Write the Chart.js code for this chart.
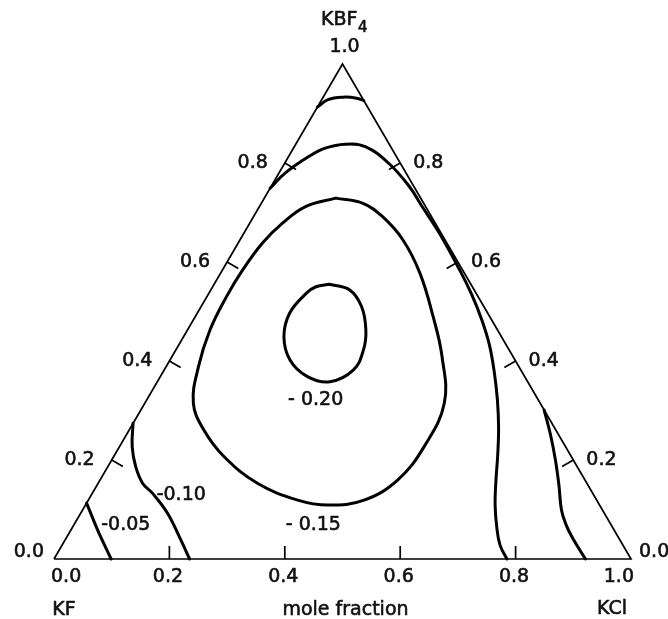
<!DOCTYPE html>
<html>
<head>
<meta charset="utf-8">
<script src="https://cdn.jsdelivr.net/npm/chart.js@4.4.1/dist/chart.umd.min.js"></script>
<style>
  html, body { margin: 0; padding: 0; background: #fff; }
  #wrap { position: relative; width: 668px; height: 619px; }
</style>
</head>
<body>
<div id="wrap"><canvas id="c"></canvas></div>
<script>
// ---- Data (mole fractions) ----
// Axis tick values and labels
const tickValues = [0.0, 0.2, 0.4, 0.6, 0.8, 1.0];
const tickLabels = ['0.0', '0.2', '0.4', '0.6', '0.8', '1.0'];
const components = ['KF', 'KCl', 'KBF4'];
const levelLabels = ['-0.05', '-0.10', '- 0.15', '- 0.20'];

// Contour lines as [x(KCl), x(KBF4)] compositions; x(KF) = 1 - x(KCl) - x(KBF4)
const iso005_kf   = [[0.000,0.113],[0.046,0.059],[0.099,0.000]];
const iso005_kbf4 = [[0.000,0.913],[0.011,0.928],[0.035,0.933],[0.059,0.931],[0.074,0.926]];
const iso005_kcl  = [[0.699,0.301],[0.735,0.251],[0.769,0.200],[0.800,0.150],[0.830,0.099],[0.853,0.069],
                     [0.877,0.043],[0.921,0.000]];
const iso010_kf   = [[0.000,0.274],[0.022,0.227],[0.048,0.187],[0.077,0.153],[0.104,0.133],[0.151,0.092],
                     [0.201,0.038],[0.235,0.000]];
const iso010_main = [[0.000,0.749],[0.011,0.780],[0.035,0.813],[0.055,0.830],[0.086,0.838],[0.123,0.833],
                     [0.181,0.799],[0.239,0.753],[0.282,0.712],[0.338,0.659],[0.411,0.584],[0.457,0.534],
                     [0.500,0.483],[0.538,0.433],[0.574,0.378],[0.608,0.321],[0.638,0.265],[0.664,0.210],
                     [0.686,0.160],[0.710,0.109],[0.736,0.063],[0.759,0.028],[0.785,0.000]];
const iso015      = [[0.124,0.729],[0.175,0.719],[0.223,0.692],[0.282,0.645],[0.345,0.578],[0.412,0.490],
                     [0.468,0.409],[0.519,0.315],[0.528,0.227],[0.516,0.160],[0.478,0.119],[0.420,0.109],
                     [0.363,0.119],[0.276,0.153],[0.191,0.207],[0.129,0.261],[0.084,0.315],[0.056,0.389],
                     [0.039,0.463],[0.034,0.530],[0.035,0.584],[0.042,0.638],[0.057,0.679],[0.080,0.712],
                     [0.124,0.729]];
const iso020      = [[0.200,0.555],[0.240,0.544],[0.278,0.510],[0.309,0.463],[0.325,0.423],[0.328,0.382],
                     [0.299,0.358],[0.254,0.369],[0.208,0.402],[0.174,0.449],[0.160,0.497],[0.169,0.537],
                     [0.179,0.550],[0.200,0.555]];
const corners = [[0,0],[1,0],[0,1],[0,0]];

// ---- helpers ----
const toXY = arr => arr.map(([kcl, kbf]) => ({ x: kcl + kbf / 2, y: kbf }));
const contour = arr => ({
  data: toXY(arr), showLine: true, borderColor: '#000', borderWidth: 3,
  pointRadius: 0, tension: 0.4, clip: false, borderCapStyle: 'round', borderJoinStyle: 'round'
});

const FONT = '"DejaVu Sans", sans-serif';

const ternaryDecor = {
  id: 'ternaryDecor',
  afterDatasetsDraw(chart, args, opts) {
    const { ctx } = chart;
    const sx = chart.scales.x, sy = chart.scales.y;
    const P = (kcl, kbf) => [sx.getPixelForValue(kcl + kbf / 2), sy.getPixelForValue(kbf)];
    const A = P(0, 0), B = P(1, 0), C = P(0, 1);
    const norm = (v) => { const l = Math.hypot(v[0], v[1]); return [v[0] / l, v[1] / l]; };
    const dl = norm([C[0] - A[0], C[1] - A[1]]);
    const dr = norm([C[0] - B[0], C[1] - B[1]]);
    const nl = [-dl[1], dl[0]];     // inward normal of left edge
    const nr = [dr[1], -dr[0]];     // inward normal of right edge
    const L = 13;
    ctx.save();
    ctx.strokeStyle = '#000';
    ctx.lineWidth = 1.7;
    ctx.beginPath();
    tickValues.forEach(v => {
      if (v <= 0 || v >= 1) return;
      const b = P(v, 0);
      ctx.moveTo(b[0], b[1]); ctx.lineTo(b[0], b[1] - L);
      const l = P(0, v);
      ctx.moveTo(l[0], l[1]); ctx.lineTo(l[0] + nl[0] * L, l[1] + nl[1] * L);
      const r = P(1 - v, v);
      ctx.moveTo(r[0], r[1]); ctx.lineTo(r[0] + nr[0] * L, r[1] + nr[1] * L);
    });
    ctx.stroke();

    ctx.fillStyle = '#111';
    ctx.strokeStyle = '#111';
    ctx.lineWidth = 0.6;
    ctx.lineJoin = 'round';
    ctx.textBaseline = 'middle';
    const txt = (s, x, y, align) => {
      ctx.textAlign = align;
      ctx.fillText(s, x, y);
      ctx.strokeText(s, x, y);
    };
    ctx.font = '19px ' + FONT;
    // bottom (KCl) labels
    tickValues.forEach((v, i) => {
      const b = P(v, 0);
      if (v === 0) txt(tickLabels[i], b[0] - 3, b[1] + 18, 'left');
      else if (v === 1) txt(tickLabels[i], b[0] + 3, b[1] + 18, 'right');
      else txt(tickLabels[i], b[0] - 1.5, b[1] + 18, 'center');
    });
    // side (KBF4) labels
    tickValues.forEach((v, i) => {
      if (v === 1) return;
      const l = P(0, v), r = P(1 - v, v);
      const dy = v === 0 ? -7 : 0;
      txt(tickLabels[i], l[0] - (v === 0 ? 10 : 17), l[1] + dy, 'right');
      txt(tickLabels[i], r[0] + (v === 0 ? 8 : 13), r[1] + dy, 'left');
    });
    // apex
    txt(tickLabels[tickLabels.length - 1], C[0] + 2, C[1] - 17, 'center');
    txt('KBF', C[0] + 15, C[1] - 44, 'right');
    ctx.font = '15px ' + FONT;
    txt('4', C[0] + 15.5, C[1] - 36, 'left');

    // component names and axis title
    ctx.font = '19px ' + FONT;
    txt(components[0], A[0] + 10, A[1] + 51, 'center');
    txt('mole fraction', (A[0] + B[0]) / 2 + 3, A[1] + 51, 'center');
    txt(components[1], B[0] - 19, A[1] + 50, 'center');

    // contour level labels
    opts.levelAnchors.forEach(([kcl, kbf], i) => {
      const p = P(kcl, kbf);
      txt(levelLabels[i], p[0], p[1], 'center');
    });
    ctx.restore();
  }
};

new Chart(document.getElementById('c'), {
  type: 'scatter',
  data: {
    datasets: [
      { data: toXY(corners), showLine: true, borderColor: '#000', borderWidth: 1.7, pointRadius: 0,
        tension: 0, clip: false, borderJoinStyle: 'miter' },
      contour(iso005_kf), contour(iso005_kbf4), contour(iso005_kcl),
      contour(iso010_kf), contour(iso010_main),
      contour(iso015), contour(iso020)
    ]
  },
  options: {
    responsive: true,
    maintainAspectRatio: false,
    animation: false,
    devicePixelRatio: 1,
    layout: { padding: { left: 54, right: 37, top: 64, bottom: 60 } },
    scales: {
      x: { type: 'linear', min: 0, max: 1, display: false },
      y: { type: 'linear', min: 0, max: 1, display: false }
    },
    plugins: {
      legend: { display: false },
      tooltip: { enabled: false },
      ternaryDecor: {
        levelAnchors: [[0.090, 0.069], [0.156, 0.129], [0.415, 0.069], [0.293, 0.321]]
      }
    }
  },
  plugins: [ternaryDecor]
});
</script>
</body>
</html>
